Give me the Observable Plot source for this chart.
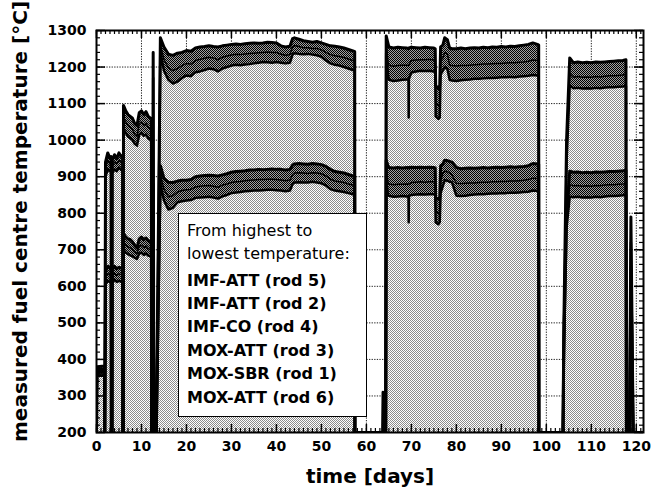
<!DOCTYPE html>
<html><head><meta charset="utf-8">
<script src="https://cdn.jsdelivr.net/npm/d3@7"></script>
<script src="https://cdn.jsdelivr.net/npm/@observablehq/plot@0.6"></script>
<style>
body{margin:0;background:#fff;}
#wrap{position:relative;width:653px;height:497px;}
#legend{position:absolute;left:178px;top:213px;width:189px;height:204px;box-sizing:border-box;border:1.5px solid #000;background:#fff;font-family:"DejaVu Sans";font-size:16px;line-height:23.4px;padding:4.5px 0 0 8px;color:#000;white-space:nowrap;}
#legend .b{font-weight:bold;}
#legend .gap{margin-top:3.3px;}
</style></head><body><div id="wrap"></div><script>
// time axis (days) shared by all rods
const days = [
  0,0.1,1.8,1.85,2.0,2.5,3.0,3.25,3.3,3.45,3.5,4.0,4.5,5.0,5.5,5.8,5.85,5.95,6.0,6.5,7.0,7.5,8.0,8.5,9.0,9.5,10.0,10.5,11.0,11.5,12.0,12.2,12.25,12.5,12.6,12.75,13.3,
  14.2,15,16,17,18,19,20,21,22,23,24,25,26,27,28,29,30,31,32,33,34,35,36,37,38,39,40,41,42,43,43.6,44,45,46,47,48,49,50,51,52,53,54,55,56,57,57.4,57.45,
  63.6,63.7,63.8,64.3,64.4,64.8,65,66,67,68,69,69.35,69.4,69.45,70,71,72,73,74,75,75.3,75.4,76.0,76.3,76.5,77,77.4,78,78.5,79,80,81,82,83,84,85,86,87,88,89,90,91,92,93,94,95,96,97,98,98.3,98.35,
  103.7,103.9,104.5,105.2,106,107,108,109,110,111,112,113,114,115,116,117,117.7,117.8,118.5,118.8,119.3,121.6
];
// IMF-ATT (rod 5)
const rod5 = [
  200,380,382,200,940,965,950,955,200,200,945,960,950,965,955,958,200,200,1095,1080,1070,1065,1060,1045,1040,1075,1080,1070,1078,1065,1060,1058,200,200,1240,200,200,
  1280,1255,1235,1232,1238,1240,1245,1243,1252,1255,1256,1258,1256,1255,1258,1260,1262,1263,1262,1264,1265,1266,1265,1266,1268,1267,1266,1258,1255,1257,1278,1280,1276,1272,1270,1268,1270,1266,1262,1258,1257,1255,1252,1248,1244,1242,200,
  200,310,200,200,1285,1265,1255,1252,1254,1253,1252,1250,1250,1252,1254,1253,1252,1254,1253,1252,1250,1150,1140,1150,1255,1260,1280,1275,1252,1250,1250,1252,1250,1252,1253,1252,1254,1253,1255,1254,1256,1255,1257,1256,1258,1260,1262,1266,1262,1260,200,
  200,500,1000,1225,1212,1214,1212,1213,1212,1214,1213,1214,1215,1216,1217,1218,1220,200,200,790,200,200
];
// IMF-ATT (rod 2)
const rod2 = [
  200,375,376,200,925,945,935,938,200,200,930,940,935,945,938,940,200,200,1060,1050,1040,1035,1030,1015,1010,1045,1050,1040,1046,1035,1030,1028,200,200,1200,200,200,
  1262,1220,1198,1190,1196,1204,1210,1208,1218,1221,1224,1227,1225,1220,1227,1230,1233,1235,1234,1236,1237,1238,1239,1240,1241,1240,1240,1235,1232,1234,1256,1259,1256,1253,1253,1251,1251,1247,1240,1234,1231,1229,1226,1222,1218,1216,200,
  200,200,200,200,1262,1215,1205,1202,1204,1205,1205,1204,1204,1206,1218,1219,1220,1220,1221,1219,1216,1100,1095,1100,1218,1225,1240,1236,1205,1204,1203,1204,1204,1205,1206,1207,1208,1208,1209,1210,1210,1211,1212,1212,1213,1214,1216,1219,1218,1217,200,
  200,480,970,1182,1172,1174,1172,1173,1172,1174,1173,1175,1176,1176,1177,1178,1180,200,200,760,200,200
];
// IMF-CO (rod 4)
const rod4 = [
  200,370,371,200,900,920,915,916,200,200,910,920,915,925,918,920,200,200,1030,1020,1010,1005,1000,990,985,1015,1020,1012,1015,1005,1000,998,200,200,1170,200,200,
  1240,1190,1165,1155,1160,1170,1177,1175,1186,1188,1192,1196,1194,1188,1196,1200,1204,1206,1205,1207,1208,1210,1212,1214,1213,1212,1214,1212,1210,1212,1235,1238,1236,1235,1236,1234,1232,1228,1218,1210,1206,1204,1200,1196,1192,1190,200,
  200,200,200,200,1240,1180,1165,1162,1163,1165,1166,1166,1062,1168,1185,1188,1190,1189,1190,1188,1185,1065,1058,1062,1180,1190,1200,1195,1165,1163,1162,1164,1165,1166,1168,1168,1169,1170,1170,1171,1172,1172,1173,1172,1174,1175,1176,1178,1177,1176,200,
  200,460,940,1150,1142,1143,1141,1142,1141,1143,1142,1144,1145,1145,1146,1147,1148,200,200,720,200,200
];
// MOX-ATT (rod 3)
const rod3 = [
  200,365,366,200,640,655,650,652,200,200,645,655,648,652,650,652,200,200,745,735,730,728,722,712,705,730,735,728,732,725,722,720,200,200,880,200,200,
  930,895,885,884,888,890,890,892,900,902,903,904,903,902,905,908,912,914,915,916,918,918,920,919,920,921,920,920,918,920,932,935,936,935,934,936,935,933,928,920,914,912,910,906,902,900,200,
  200,200,200,200,945,930,925,924,925,924,925,924,924,925,926,925,926,925,926,925,924,843,838,843,930,935,945,944,942,940,925,922,923,924,923,924,925,924,925,926,925,926,927,926,927,928,930,936,935,934,200,
  200,450,800,915,912,913,911,912,911,913,912,913,914,914,915,916,917,200,200,650,200,200
];
// MOX-SBR (rod 1)
const rod1 = [
  200,360,361,200,625,635,630,632,200,200,628,635,630,634,632,633,200,200,720,712,708,705,700,693,690,710,712,706,710,703,700,698,200,200,850,200,200,
  905,865,845,848,858,862,864,865,872,874,875,876,874,871,877,880,884,886,887,889,890,891,892,892,893,893,892,891,889,891,906,910,911,910,909,911,910,908,902,893,888,886,884,880,877,875,200,
  200,200,200,200,918,885,880,878,879,879,880,879,879,880,884,885,886,885,886,886,885,805,800,805,888,910,915,914,910,905,882,881,882,883,883,884,885,885,886,886,887,887,888,888,889,890,892,896,895,894,200,
  200,430,780,878,875,876,874,875,874,876,875,877,878,878,879,880,881,200,200,600,200,200
];
// MOX-ATT (rod 6)
const rod6 = [
  200,355,356,200,605,615,612,613,200,200,610,618,612,615,612,613,200,200,700,692,688,685,682,678,675,690,692,686,690,684,682,680,200,200,820,200,200,
  880,835,810,815,830,833,835,836,842,843,844,845,843,840,846,850,855,857,858,860,861,862,862,863,864,864,863,862,860,862,880,884,885,884,884,886,884,882,876,866,862,860,858,855,852,850,200,
  200,200,200,200,890,850,848,845,846,847,846,846,775,848,850,851,852,851,852,852,851,775,770,775,855,875,890,889,886,885,848,847,848,850,851,852,852,853,854,854,855,855,856,856,857,858,859,862,861,860,200,
  200,410,760,845,844,845,843,844,843,845,844,846,847,847,848,849,850,200,200,560,200,200
];
const xTicks = [0,10,20,30,40,50,60,70,80,90,100,110,120];
const yTicks = [200,300,400,500,600,700,800,900,1000,1100,1200,1300];
const xLabel = "time [days]";
const yLabel = "measured fuel centre temperature [°C]";
const legendIntro = ["From highest to", "lowest temperature:"];
const legendRods = ["IMF-ATT (rod 5)","IMF-ATT (rod 2)","IMF-CO (rod 4)","MOX-ATT (rod 3)","MOX-SBR (rod 1)","MOX-ATT (rod 6)"];

const rows = days.map((t,i)=>({t, r5:rod5[i], r2:rod2[i], r4:rod4[i], r3:rod3[i], r1:rod1[i], r6:rod6[i]}));
const W = 653, H = 497, mL = 96, mR = 10, mT = 30, mB = 65;
const innerW = W - mL - mR, innerH = H - mT - mB;
const xMinor = d3.range(0, 122, 1);
const yMinor = d3.range(200, 1301, 20);
const font = {fontFamily:"DejaVu Sans", fontWeight:"bold"};
const lineOpts = (k, w) => Plot.line(rows, {x:"t", y:k, stroke:"#000", strokeWidth:w, clip:true});

const svg = Plot.plot({
  width:W, height:H, marginLeft:mL, marginRight:mR, marginTop:mT, marginBottom:mB,
  x:{domain:[0,121.6]}, y:{domain:[200,1300]},
  style:{background:"#fff", overflow:"visible", color:"#000"},
  marks:[
    Plot.gridX(xTicks.slice(1), {stroke:"#222", strokeOpacity:1, strokeDasharray:"1.3,1.3", strokeWidth:1}),
    Plot.gridY(yTicks.slice(1,-1), {stroke:"#222", strokeOpacity:1, strokeDasharray:"1.3,1.3", strokeWidth:1}),
    Plot.areaY(rows, {x:"t", y:"r5", fill:"url(#lightHatch)", clip:true}),
    Plot.areaY(rows, {x:"t", y1:"r4", y2:"r5", fill:"url(#darkHatch)", clip:true}),
    Plot.areaY(rows, {x:"t", y1:"r6", y2:"r3", fill:"url(#darkHatch)", clip:true}),
    lineOpts("r4", 2.5), lineOpts("r2", 1.5), lineOpts("r5", 3),
    lineOpts("r6", 2.5), lineOpts("r1", 1.5), lineOpts("r3", 3),
    Plot.tickX(xMinor, {x:d=>d, insetTop:innerH-4, stroke:"#000", strokeWidth:1.2}),
    Plot.tickX(xMinor, {x:d=>d, insetBottom:innerH-4, stroke:"#000", strokeWidth:1.2}),
    Plot.tickX(xTicks, {x:d=>d, insetTop:innerH-8, stroke:"#000", strokeWidth:1.5}),
    Plot.tickX(xTicks, {x:d=>d, insetBottom:innerH-8, stroke:"#000", strokeWidth:1.5}),
    Plot.tickY(yMinor, {y:d=>d, insetRight:innerW-4, stroke:"#000", strokeWidth:1.2}),
    Plot.tickY(yMinor, {y:d=>d, insetLeft:innerW-4, stroke:"#000", strokeWidth:1.2}),
    Plot.tickY(yTicks, {y:d=>d, insetRight:innerW-9, stroke:"#000", strokeWidth:1.5}),
    Plot.tickY(yTicks, {y:d=>d, insetLeft:innerW-9, stroke:"#000", strokeWidth:1.5}),
    Plot.frame({stroke:"#000", strokeWidth:2}),
    Plot.axisX(xTicks, {tickSize:0, tickPadding:9, fontSize:14, ...font, label:null, tickFormat:d=>String(d)}),
    Plot.axisY(yTicks, {tickSize:0, tickPadding:10, fontSize:14, ...font, label:null, tickFormat:d=>String(d)}),
    Plot.text([xLabel], {frameAnchor:"bottom", dy:44, textAnchor:"middle", lineAnchor:"middle", fontSize:20, ...font}),
    Plot.text([yLabel], {frameAnchor:"left", dx:-76, dy:-10, rotate:-90, textAnchor:"middle", lineAnchor:"middle", fontSize:20, ...font})
  ]
});

// fill patterns (dithered greys)
const defs = d3.select(svg).insert("defs", ":first-child");
function pattern(id, bg, fg){
  const p = defs.append("pattern").attr("id", id).attr("patternUnits","userSpaceOnUse").attr("width",2).attr("height",2);
  p.append("rect").attr("width",2).attr("height",2).attr("fill",bg).attr("shape-rendering","crispEdges");
  p.append("rect").attr("width",1).attr("height",1).attr("fill",fg).attr("shape-rendering","crispEdges");
  p.append("rect").attr("x",1).attr("y",1).attr("width",1).attr("height",1).attr("fill",fg).attr("shape-rendering","crispEdges");
}
pattern("lightHatch", "#ffffff", "#8c8c8c");
pattern("darkHatch", "#a0a0a0", "#000000");

const wrap = document.getElementById("wrap");
wrap.appendChild(svg);
const lg = document.createElement("div");
lg.id = "legend";
lg.innerHTML = legendIntro.map(s=>`<div>${s}</div>`).join("") +
  `<div class="gap">` + legendRods.map(s=>`<div class="b">${s}</div>`).join("") + `</div>`;
wrap.appendChild(lg);
</script></body></html>
